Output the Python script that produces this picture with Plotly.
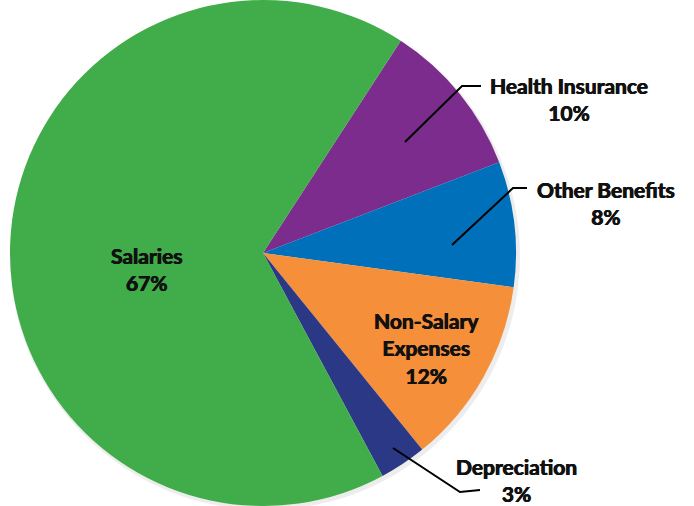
import plotly.graph_objects as go

labels = ["Health Insurance", "Other Benefits", "Non-Salary Expenses", "Depreciation", "Salaries"]
values = [10, 8, 12, 3, 67]
colors = ["#7B2C8D", "#0070BA", "#F68F3A", "#2B3886", "#40AD4A"]

W, H = 694, 506

def px(x):
    return x / W

def py(y):
    return 1 - y / H

fig = go.Figure(go.Pie(
    labels=labels,
    values=values,
    sort=False,
    direction="clockwise",
    rotation=33,
    marker=dict(colors=colors, line=dict(width=0)),
    textinfo="none",
    hoverinfo="label+percent",
    showlegend=False,
    domain=dict(x=[5 / W, 521 / W], y=[0, 1]),
))

font = dict(family="Lato, 'Open Sans', sans-serif", size=21, color="#111111",
            weight="bold", shadow="0.45px 0 0 #111111, -0.45px 0 0 #111111")

annots = [
    ("Salaries<br>67%", 147, 269),
    ("Non-Salary<br>Expenses<br>12%", 426, 348),
    ("Health Insurance<br>10%", 569, 99),
    ("Other Benefits<br>8%", 606, 203),
    ("Depreciation<br>3%", 516, 480),
]
annotations = []
for text, x, y in annots:
    annotations.append(dict(
        text=text, x=px(x), y=py(y), xref="paper", yref="paper",
        showarrow=False, font=font, align="center",
        xanchor="center", yanchor="middle",
    ))

lines = [
    [(405, 142), (462, 86), (481, 86)],
    [(452, 245), (513, 188), (527, 188)],
    [(393, 448), (460, 492), (480, 490)],
]
shapes = [dict(type="circle", xref="paper", yref="paper",
               x0=px(263 - 253), x1=px(266 + 254), y0=py(256 + 254), y1=py(256 - 254),
               fillcolor="rgba(0,0,0,0.07)", line=dict(width=0), layer="below")]
for pts in lines:
    path = "M " + " L ".join(f"{px(x)},{py(y)}" for x, y in pts)
    shapes.append(dict(type="path", path=path, xref="paper", yref="paper",
                       line=dict(color="#000000", width=2), layer="above"))

fig.update_layout(
    width=W, height=H,
    margin=dict(l=0, r=0, t=0, b=0),
    paper_bgcolor="white",
    plot_bgcolor="white",
    annotations=annotations,
    shapes=shapes,
)

fig.write_html("out.html")
